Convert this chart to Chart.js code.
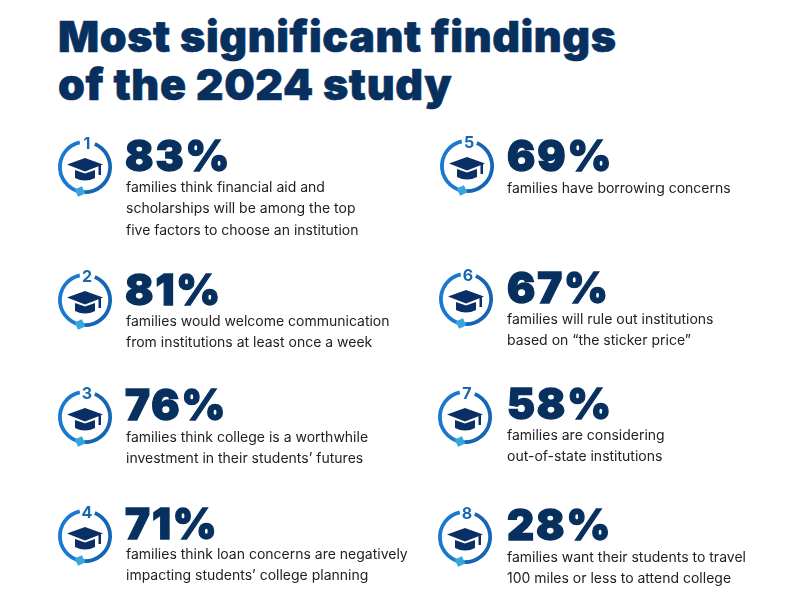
<!DOCTYPE html>
<html><head><meta charset="utf-8">
<script src="https://cdn.jsdelivr.net/npm/chart.js@4/dist/chart.umd.min.js"></script>
<style>
html,body{margin:0;padding:0;background:#fff;width:800px;height:600px;overflow:hidden}
body{position:relative;font-family:Inter,"Open Sans",sans-serif}
#title{position:absolute;left:58px;top:12px;margin:0;font:900 43px/48px Inter,sans-serif;letter-spacing:.6px;color:#07305f;-webkit-text-stroke:.6px #07305f;paint-order:stroke fill;white-space:nowrap}
.ring{position:absolute;width:72px;height:72px}
.num{position:absolute;width:20px;text-align:center;font:700 16px/16px Inter,sans-serif;color:#1767b3;background:transparent}
.pct{position:absolute;font:900 42px/32px Inter,sans-serif;letter-spacing:1.9px;color:#07305f;-webkit-text-stroke:1.3px #07305f;paint-order:stroke fill;white-space:nowrap}
.cap{position:absolute;font:400 14px/21.3px Inter,sans-serif;color:#222;white-space:pre}
</style></head><body>
<h1 id="title">Most significant findings<br>of the 2024 study</h1>
<script>
// Data
const steps = [1,2,3,4,5,6,7,8];
const percents = [83,81,76,71,69,67,58,28];
const captions = [
 "families think financial aid and\nscholarships will be among the top\nfive factors to choose an institution",
 "families would welcome communication\nfrom institutions at least once a week",
 "families think college is a worthwhile\ninvestment in their students\u2019 futures",
 "families think loan concerns are negatively\nimpacting students\u2019 college planning",
 "families have borrowing concerns",
 "families will rule out institutions\nbased on \u201cthe sticker price\u201d",
 "families are considering\nout-of-state institutions",
 "families want their students to travel\n100 miles or less to attend college"
];
// Ring segments, in degrees: right arc to the foot, left arc back to the top, gap for the step number
const ringArcs = [157,168,35];
const ringColors = ['#1565b5','#1b78d0','rgba(0,0,0,0)'];

// Layout only: [ring cx, ring cy, percent x, percent cy, caption x, caption top]
const layout = [
 [85,167,125,156,126,176],
 [85,300,125,290,126,310],
 [85,417,125,405,126,426],
 [85,536,125,524,126,543],
 [467,166,507,155.5,507,177],
 [466,299,507,288,507,308],
 [465,417,507,404,507,424],
 [465,537,507,525,507,546]
];

const capIcon = {
  id:'capIcon',
  afterDatasetsDraw(chart){
    const p = chart.getDatasetMeta(0).data[0];
    const c = chart.ctx, x = p.x, y = p.y;
    c.save();
    c.fillStyle = '#0a2f66';
    // board
    c.beginPath(); c.moveTo(x-18,y-2.5); c.lineTo(x,y-9); c.lineTo(x+18,y-2.5); c.lineTo(x,y+4.5); c.closePath(); c.fill();
    // skull cap
    c.beginPath(); c.moveTo(x-10,y+3); c.lineTo(x,y+6.5); c.lineTo(x+10,y+3); c.lineTo(x+10,y+11); c.quadraticCurveTo(x,y+16,x-10,y+11); c.closePath(); c.fill();
    // tassel
    c.fillRect(x+13.5,y-2,2.5,10);
    // foot diamond
    c.fillStyle = '#35a7dd';
    c.translate(x-5,y+24.5); c.rotate(Math.PI/4+0.35);
    c.fillRect(-4,-4,8,8);
    c.restore();
  }
};

steps.forEach((s,i)=>{
  const [cx,cy,px,py,tx,ty] = layout[i];
  const cv = document.createElement('canvas');
  const box = document.createElement('div');
  box.className='ring';
  box.style.left=(cx-36)+'px'; box.style.top=(cy-36)+'px';
  box.appendChild(cv); document.body.appendChild(box);
  new Chart(cv,{
    type:'doughnut',
    data:{labels:['right arc','left arc','gap'],datasets:[{data:ringArcs,backgroundColor:ringColors,borderWidth:0}]},
    options:{responsive:true,maintainAspectRatio:false,animation:false,rotation:23,cutout:'86%',
      plugins:{legend:{display:false},tooltip:{enabled:false}},layout:{padding:9}},
    plugins:[capIcon]
  });
  const n=document.createElement('div'); n.className='num'; n.textContent=s;
  n.style.left=(cx-8)+'px'; n.style.top=(cy-32)+'px'; document.body.appendChild(n);
  const pc=document.createElement('div'); pc.className='pct'; pc.textContent=percents[i]+'%';
  pc.style.left=px+'px'; pc.style.top=(py-16)+'px'; document.body.appendChild(pc);
  const t=document.createElement('div'); t.className='cap'; t.textContent=captions[i];
  t.style.left=tx+'px'; t.style.top=ty+'px'; document.body.appendChild(t);
});
</script>
</body></html>
